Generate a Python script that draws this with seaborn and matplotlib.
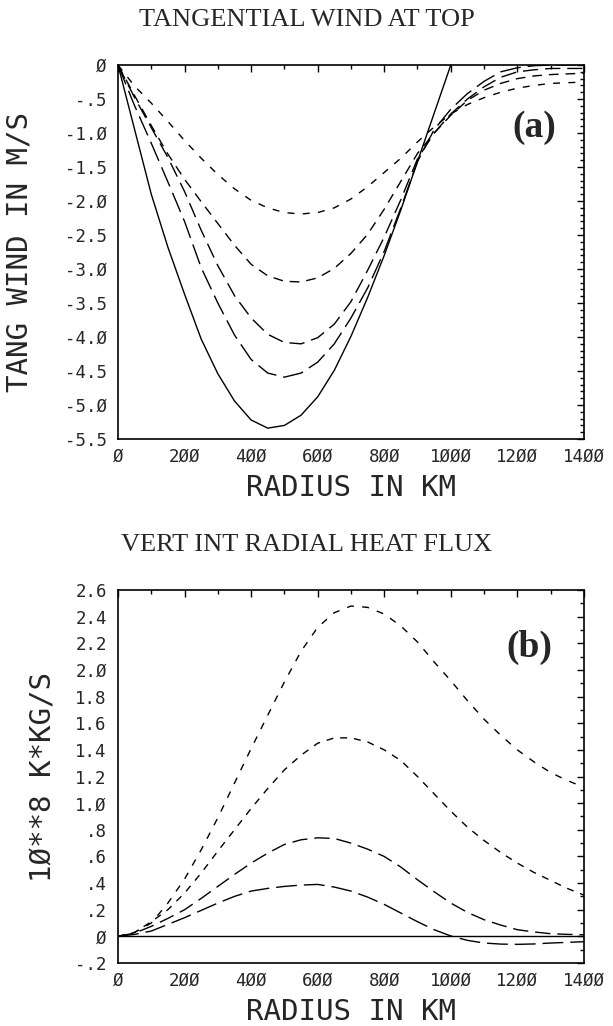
import matplotlib
matplotlib.use("Agg")
import matplotlib.pyplot as plt
import seaborn as sns
import numpy as np

# ---------------- data ----------------
radius = [0, 50, 100, 150, 200, 250, 300, 350, 400, 450, 500, 550, 600, 650, 700,
          750, 800, 850, 900, 950, 1000, 1050, 1100, 1150, 1200, 1250, 1300, 1350, 1400]

# panel (a): tangential wind at top (m/s)
radius_solid_a = radius[:22]
wind_solid = [0, -0.95, -1.9, -2.68, -3.37, -4.03, -4.54, -4.94, -5.22, -5.34, -5.30,
              -5.15, -4.88, -4.49, -3.99, -3.42, -2.80, -2.13, -1.42, -0.71, 0.0, 0.72]
wind_dash1 = [0, -0.60, -1.15, -1.72, -2.30, -2.98, -3.50, -3.97, -4.33, -4.53, -4.59,
              -4.53, -4.37, -4.10, -3.72, -3.28, -2.74, -2.10, -1.42, -0.95, -0.65,
              -0.42, -0.24, -0.10, -0.04, -0.01, 0.0, 0.0, 0.0]
wind_dash2 = [0, -0.48, -0.92, -1.36, -1.86, -2.43, -2.95, -3.39, -3.72, -3.96, -4.08,
              -4.10, -4.01, -3.81, -3.48, -3.02, -2.53, -1.98, -1.38, -1.00, -0.72,
              -0.50, -0.32, -0.18, -0.10, -0.07, -0.05, -0.05, -0.05]
wind_dash3 = [0, -0.45, -0.89, -1.31, -1.68, -2.01, -2.33, -2.65, -2.93, -3.10, -3.18,
              -3.19, -3.13, -2.99, -2.77, -2.49, -2.12, -1.71, -1.30, -1.00, -0.74,
              -0.52, -0.37, -0.27, -0.20, -0.16, -0.14, -0.13, -0.12]
wind_dash4 = [0, -0.31, -0.56, -0.83, -1.11, -1.37, -1.61, -1.82, -1.99, -2.10, -2.17,
              -2.19, -2.17, -2.10, -1.97, -1.79, -1.58, -1.37, -1.13, -0.91, -0.72,
              -0.58, -0.48, -0.40, -0.34, -0.30, -0.27, -0.26, -0.25]

# panel (b): vertically integrated radial heat flux (1e8 K*kg/s)
flux_solid = [0.0] * 29
flux_dash1 = [0, 0.03, 0.10, 0.25, 0.43, 0.65, 0.89, 1.15, 1.41, 1.66, 1.91, 2.14,
              2.32, 2.43, 2.48, 2.47, 2.42, 2.33, 2.21, 2.06, 1.92, 1.77, 1.63, 1.51,
              1.40, 1.31, 1.23, 1.17, 1.12]
flux_dash2 = [0, 0.03, 0.11, 0.20, 0.325, 0.475, 0.64, 0.80, 0.96, 1.11, 1.25, 1.36,
              1.45, 1.49, 1.49, 1.46, 1.40, 1.32, 1.20, 1.07, 0.94, 0.82, 0.72, 0.63,
              0.55, 0.48, 0.42, 0.36, 0.31]
flux_dash3 = [0, 0.025, 0.075, 0.135, 0.20, 0.285, 0.375, 0.465, 0.55, 0.625, 0.69,
              0.725, 0.74, 0.735, 0.70, 0.655, 0.60, 0.52, 0.425, 0.335, 0.25, 0.18,
              0.125, 0.085, 0.05, 0.033, 0.02, 0.015, 0.012]
flux_dash4 = [0, 0.015, 0.04, 0.09, 0.14, 0.195, 0.25, 0.30, 0.34, 0.36, 0.375, 0.385,
              0.39, 0.37, 0.34, 0.295, 0.24, 0.175, 0.11, 0.05, 0.003, -0.03, -0.05,
              -0.058, -0.06, -0.057, -0.05, -0.045, -0.04]

x_ticks = [0, 200, 400, 600, 800, 1000, 1200, 1400]
x_ticklabels = ["Ø", "2ØØ", "4ØØ", "6ØØ", "8ØØ", "1ØØØ", "12ØØ", "14ØØ"]
ya_ticks = [0, -0.5, -1.0, -1.5, -2.0, -2.5, -3.0, -3.5, -4.0, -4.5, -5.0, -5.5]
ya_ticklabels = ["Ø", "-.5", "-1.Ø", "-1.5", "-2.Ø", "-2.5", "-3.Ø", "-3.5",
                 "-4.Ø", "-4.5", "-5.Ø", "-5.5"]
yb_ticks = [-0.2, 0, 0.2, 0.4, 0.6, 0.8, 1.0, 1.2, 1.4, 1.6, 1.8, 2.0, 2.2, 2.4, 2.6]
yb_ticklabels = ["-.2", "Ø", ".2", ".4", ".6", ".8", "1.Ø", "1.2", "1.4", "1.6",
                 "1.8", "2.Ø", "2.2", "2.4", "2.6"]

title_a = "TANGENTIAL WIND AT TOP"
title_b = "VERT INT RADIAL HEAT FLUX"
xlabel = "RADIUS IN KM"
ylabel_a = "TANG WIND IN M/S"
ylabel_b = "1Ø**8 K*KG/S"

# ---------------- style ----------------
sns.set_style("white")
plt.rcParams["font.family"] = ["DejaVu Sans Mono", "DejaVu Sans"]

fig = plt.figure(figsize=(6.13, 10.26), dpi=100)
ax_a = fig.add_axes([0.1925, 0.5721, 0.760, 0.3645])
ax_b = fig.add_axes([0.1925, 0.0614, 0.760, 0.3635])

LW = 1.0
d_short = (0, (5, 6))
d_med = (0, (7, 5))
d_long = (0, (11, 5))
d_xlong = (0, (15, 5))

sns.lineplot(x=radius_solid_a, y=wind_solid, ax=ax_a, color="black", lw=LW, linestyle="-")
sns.lineplot(x=radius, y=wind_dash1, ax=ax_a, color="black", lw=LW, linestyle=d_xlong)
sns.lineplot(x=radius, y=wind_dash2, ax=ax_a, color="black", lw=LW, linestyle=d_long)
sns.lineplot(x=radius, y=wind_dash3, ax=ax_a, color="black", lw=LW, linestyle=d_med)
sns.lineplot(x=radius, y=wind_dash4, ax=ax_a, color="black", lw=LW, linestyle=d_short)

sns.lineplot(x=radius, y=flux_solid, ax=ax_b, color="black", lw=LW, linestyle="-")
sns.lineplot(x=radius, y=flux_dash1, ax=ax_b, color="black", lw=LW, linestyle=d_short)
sns.lineplot(x=radius, y=flux_dash2, ax=ax_b, color="black", lw=LW, linestyle=(0, (5, 5)))
sns.lineplot(x=radius, y=flux_dash3, ax=ax_b, color="black", lw=LW, linestyle=d_long)
sns.lineplot(x=radius, y=flux_dash4, ax=ax_b, color="black", lw=LW, linestyle=(0, (15, 5)))

tick_font = 12.5
label_font = 21

for ax, yt, ytl, ylim, ylab, lab_x in [
        (ax_a, ya_ticks, ya_ticklabels, (-5.5, 0), ylabel_a, -0.182),
        (ax_b, yb_ticks, yb_ticklabels, (-0.2, 2.6), ylabel_b, -0.13)]:
    ax.set_xlim(0, 1400)
    ax.set_ylim(*ylim)
    ax.set_xticks(x_ticks)
    ax.set_xticklabels(x_ticklabels, fontsize=tick_font)
    ax.set_yticks(yt)
    ax.set_yticklabels(ytl, fontsize=tick_font)
    ax.set_xticks(np.arange(100, 1400, 200), minor=True)
    ax.set_yticks(np.arange(ylim[0], ylim[1] + 1e-6, 0.1), minor=True)
    ax.tick_params(which="both", direction="in", top=True, right=True,
                   color="black", width=1.0)
    ax.tick_params(which="major", length=5, pad=6)
    ax.tick_params(axis="y", which="major", pad=8)
    ax.tick_params(which="minor", length=3)
    for s in ax.spines.values():
        s.set_color("black")
        s.set_linewidth(1.2)
    ax.set_xlabel(xlabel, fontsize=label_font, labelpad=6)
    ax.set_ylabel(ylab, fontsize=label_font)
    ax.yaxis.set_label_coords(lab_x, 0.5)

fig.text(0.5, 1 - 20 / 1026, title_a, ha="center", va="center",
         fontsize=19, family="Liberation Serif")
fig.text(0.5, 1 - 545 / 1026, title_b, ha="center", va="center",
         fontsize=19, family="Liberation Serif")

ax_a.text(0.893, 0.834, "(a)", transform=ax_a.transAxes, ha="center", va="center",
          fontsize=27, fontweight="bold", family="Liberation Serif")
ax_b.text(0.882, 0.845, "(b)", transform=ax_b.transAxes, ha="center", va="center",
          fontsize=27, fontweight="bold", family="Liberation Serif")

fig.savefig("out.png", dpi=100)
